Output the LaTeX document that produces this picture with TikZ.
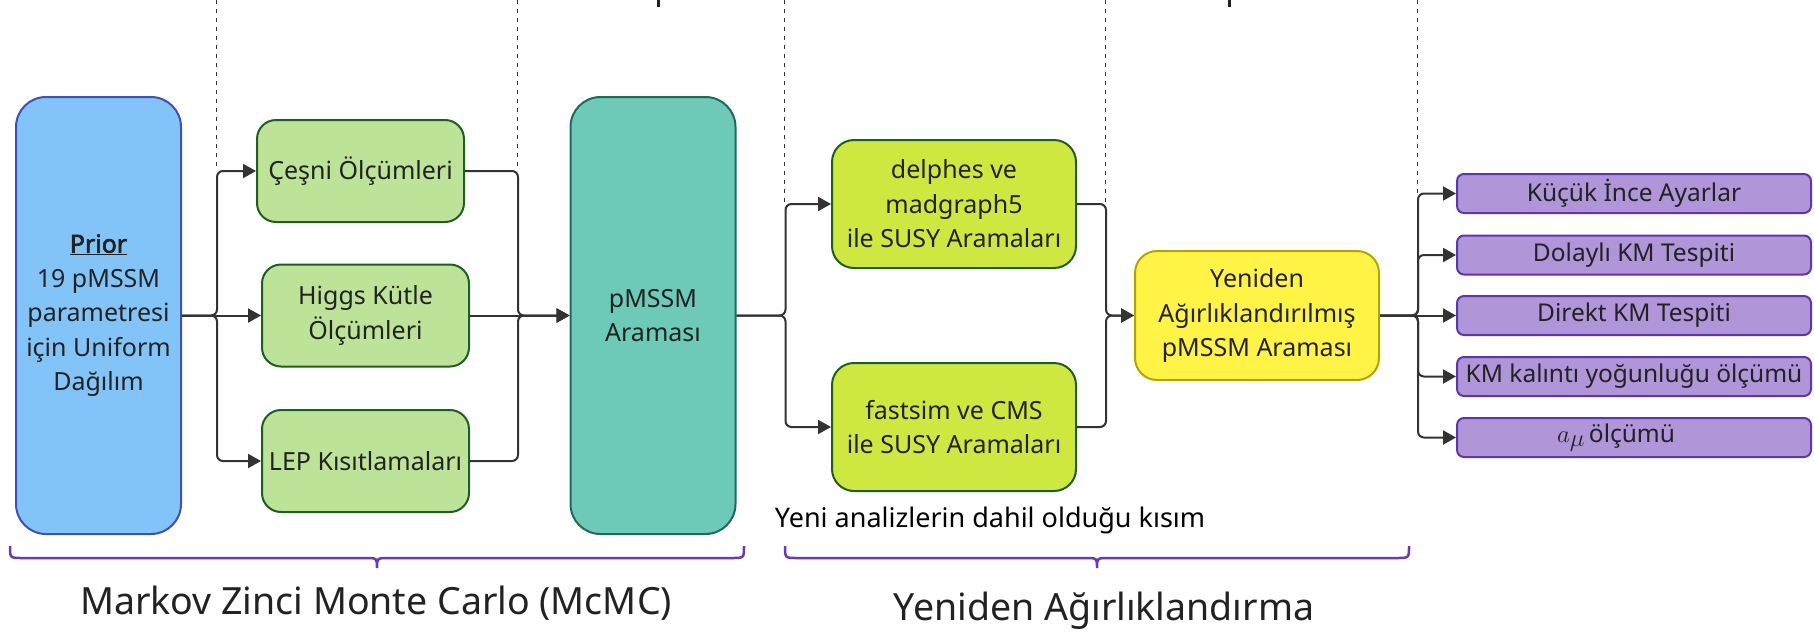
\documentclass[tikz,border=0pt]{standalone}
\usepackage{fontspec}
\setmainfont{Noto Sans}[AutoFakeBold=2.5]
\usetikzlibrary{arrows.meta}
\definecolor{txt}{HTML}{222222}
\definecolor{conncol}{HTML}{333333}
\definecolor{priorfill}{HTML}{82C4F8}
\definecolor{priorline}{HTML}{3F4FB5}
\definecolor{lgfill}{HTML}{BDE398}
\definecolor{dgline}{HTML}{1E5E20}
\definecolor{tealfill}{HTML}{6DCAB8}
\definecolor{tealline}{HTML}{1D6B58}
\definecolor{ygfill}{HTML}{CFE83F}
\definecolor{yelfill}{HTML}{FFF345}
\definecolor{yelline}{HTML}{B4A400}
\definecolor{purfill}{HTML}{B095D8}
\definecolor{purline}{HTML}{5E35B1}
\definecolor{bracecol}{HTML}{673AB7}
\begin{document}
\begin{tikzpicture}[x=1pt,y=-1pt,
  box/.style={draw, line width=2pt, align=center, text=txt, inner sep=0pt,
    font=\fontsize{25}{34.5}\selectfont},
  tallbox/.style={box, rounded corners=30pt, minimum width=165pt, minimum height=437pt},
  greenbox/.style={box, rounded corners=19pt, fill=lgfill, draw=dgline, minimum width=207pt, minimum height=102pt},
  ygbox/.style={box, rounded corners=22pt, fill=ygfill, draw=dgline, minimum width=244pt, minimum height=128pt},
  purbox/.style={box, rounded corners=7pt, fill=purfill, draw=purline, minimum width=354pt, minimum height=39pt,
    font=\fontsize{24.5}{30}\selectfont},
  conn/.style={draw=conncol, line width=2pt, rounded corners=6pt, -{Triangle[length=13pt,width=14pt]}},
  vdashline/.style={draw=conncol, line width=0.9pt, dash pattern=on 4pt off 5pt},
  brace/.style={draw=bracecol, line width=2.5pt},
  tick/.style={draw=txt, line width=3pt}
]
\useasboundingbox (0,0) rectangle (1814,633);

% dashed vertical lines from the top
\coordinate (t1) at (216,0);
\coordinate (t2) at (517,0);
\coordinate (t3) at (784,0);
\coordinate (t4) at (1105,0);
\coordinate (t5) at (1417,0);
\draw[vdashline] (t1) -- (216,171);
\draw[vdashline] (t2) -- (517,171);
\draw[vdashline] (t3) -- (784,204);
\draw[vdashline] (t4) -- (1105,204);
\draw[vdashline] (t5) -- (1417,193);

% tick marks at the top
\coordinate (k1) at (658,0);
\coordinate (k2) at (1229,0);
\draw[tick] (k1) -- ++(0,7);
\draw[tick] (k2) -- ++(0,7);

% nodes
\node[tallbox, fill=priorfill, draw=priorline] (prior) at (98.5,315.5)
  {\underline{\textbf{Prior}}\\19 pMSSM\\parametresi\\için Uniform\\Dağılım};
\node[greenbox] (cesni) at (360.5,171) {Çeşni Ölçümleri};
\node[greenbox] (higgs) at (365.5,315.5) {Higgs Kütle\\Ölçümleri};
\node[greenbox] (lep) at (365.5,461) {LEP Kısıtlamaları};
\node[tallbox, fill=tealfill, draw=tealline] (pmssm) at (653,315.5) {pMSSM\\Araması};
\node[ygbox] (delphes) at (954,204) {delphes ve\\madgraph5\\ile SUSY Aramaları};
\node[ygbox] (fastsim) at (954,427) {fastsim ve CMS\\ile SUSY Aramaları};
\node[box, rounded corners=22pt, fill=yelfill, draw=yelline, minimum width=244pt, minimum height=129pt]
  (rew) at (1257,315.5) {Yeniden\\Ağırlıklandırılmış\\pMSSM Araması};
\node[purbox] (p1) at (1634,193.5) {Küçük İnce Ayarlar};
\node[purbox] (p2) at (1634,255) {Dolaylı KM Tespiti};
\node[purbox] (p3) at (1634,315.5) {Direkt KM Tespiti};
\node[purbox] (p4) at (1634,376.5) {KM kalıntı yoğunluğu ölçümü};
\node[purbox] (p5) at (1634,437.5)
  {{\fontsize{35}{35}\selectfont$a_{\mu}$}\hspace{4pt}ölçümü\hspace*{36pt}};

% connectors
\draw[conn] (prior.east) -- ++(35,0) |- (cesni.west);
\draw[conn] (prior.east) -- (higgs.west);
\draw[conn] (prior.east) -- ++(35,0) |- (lep.west);
\draw[conn] (cesni.east) -- ++(53,0) |- (pmssm.west);
\draw[conn] (higgs.east) -- (pmssm.west);
\draw[conn] (lep.east) -- ++(48,0) |- (pmssm.west);
\draw[conn] (pmssm.east) -- ++(49,0) |- (delphes.west);
\draw[conn] (pmssm.east) -- ++(49,0) |- (fastsim.west);
\draw[conn] (delphes.east) -- ++(29,0) |- (rew.west);
\draw[conn] (fastsim.east) -- ++(29,0) |- (rew.west);
\draw[conn] (rew.east) -- ++(38,0) |- (p1.west);
\draw[conn] (rew.east) -- ++(38,0) |- (p2.west);
\draw[conn] (rew.east) -- (p3.west);
\draw[conn] (rew.east) -- ++(38,0) |- (p4.west);
\draw[conn] (rew.east) -- ++(38,0) |- (p5.west);

% braces
\draw[brace] (10,546) .. controls (10,558) .. (22,558) -- (365,558)
  .. controls (377,558) .. (377,568) .. controls (377,558) .. (389,558)
  -- (732,558) .. controls (744,558) .. (744,546);
\draw[brace] (785,546) .. controls (785,558) .. (797,558) -- (1085,558)
  .. controls (1097,558) .. (1097,568) .. controls (1097,558) .. (1109,558)
  -- (1397,558) .. controls (1409,558) .. (1409,546);

% labels
\node[text=txt, font=\fontsize{37.5}{44}\selectfont, inner sep=0pt] (lmc) at (376,603)
  {Markov Zinci Monte Carlo (McMC)};
\node[text=txt, font=\fontsize{37.5}{44}\selectfont, inner sep=0pt] (lrw) at (1104,611)
  {Yeniden Ağırlıklandırma};
\node[text=black, font=\fontsize{27}{32}\selectfont, inner sep=0pt] (lnew) at (990,520)
  {Yeni analizlerin dahil olduğu kısım};
\end{tikzpicture}
\end{document}
